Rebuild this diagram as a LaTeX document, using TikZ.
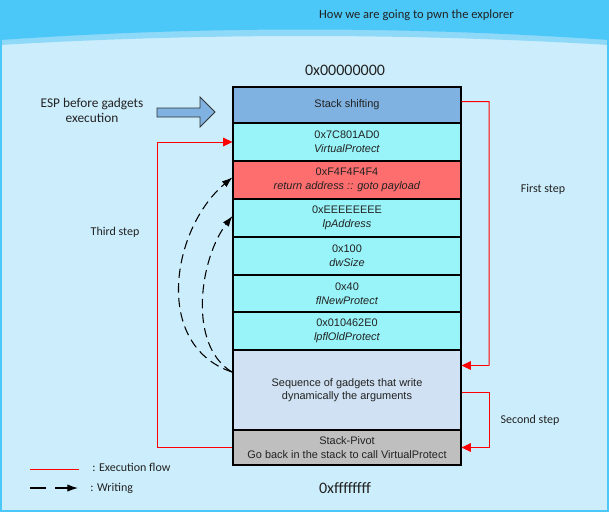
\documentclass[tikz,border=0pt]{standalone}
\usepackage{fontspec}
\setmainfont{Carlito}
\newfontfamily\boxfont{Liberation Sans}
\usetikzlibrary{arrows.meta}
\definecolor{bgc}{RGB}{204,238,252}
\definecolor{headc}{RGB}{75,200,248}
\definecolor{bandc}{RGB}{142,216,248}
\definecolor{shiftc}{RGB}{127,178,224}
\definecolor{cyanc}{RGB}{152,244,248}
\definecolor{redc}{RGB}{255,110,110}
\definecolor{seqc}{RGB}{207,225,242}
\definecolor{pivc}{RGB}{191,191,191}
\definecolor{txtc}{RGB}{34,34,34}
\definecolor{flowc}{RGB}{255,0,0}
\tikzset{
  row/.style={draw=black, line width=0.8pt, minimum width=171pt, inner sep=0pt, align=center,
    font=\boxfont\fontsize{8.2}{10.2}\selectfont, text=txtc},
  flow/.style={draw=flowc, line width=0.75pt, -{Triangle[length=7pt,width=6.5pt]}},
  flowline/.style={draw=flowc, line width=0.75pt},
  writing/.style={draw=black, line width=0.8pt, dash pattern=on 7pt off 4pt, -{Latex[length=8pt,width=5.5pt]}},
  lbl/.style={font=\fontsize{9}{11}\selectfont, text=txtc, inner sep=0pt},
}
\begin{document}
\begin{tikzpicture}[x=0.75pt,y=-0.75pt]
\useasboundingbox (0,0) rectangle (609,512);
% background
\fill[bgc] (0,0) rectangle (609,512);
\fill[bandc] (0,0) -- (609,0) -- (609,45) .. controls (409,33) and (200,33) .. (0,45) -- cycle;
\fill[headc] (0,0) -- (609,0) -- (609,40) .. controls (409,26) and (200,26) .. (0,40) -- cycle;
\draw[headc, line width=1.5pt] (1,0) -- (1,511) -- (608,511) -- (608,0);
\node[font=\fontsize{9.4}{12}\selectfont, text=txtc, anchor=east, inner sep=0pt] (title) at (514,15) {How we are going to pwn the explorer};

% stack
\node[row, fill=shiftc, minimum height=27pt] (r0) at (347,105) {Stack shifting};
\node[row, fill=cyanc, minimum height=28.5pt] (r1) at (347,142) {0x7C801AD0\\\textit{VirtualProtect}};
\node[row, fill=redc, minimum height=28.5pt] (r2) at (347,180) {0xF4F4F4F4\\\textit{return address :: goto payload}};
\node[row, fill=cyanc, minimum height=28.5pt] (r3) at (347,218) {0xEEEEEEEE\\\textit{lpAddress}};
\node[row, fill=cyanc, minimum height=28.5pt] (r4) at (347,256) {0x100\\\textit{dwSize}};
\node[row, fill=cyanc, minimum height=27.75pt] (r5) at (347,293.5) {0x40\\\textit{flNewProtect}};
\node[row, fill=cyanc, minimum height=28.5pt] (r6) at (347,331) {0x010462E0\\\textit{lpflOldProtect}};
\node[row, fill=seqc, minimum height=60pt] (r7) at (347,390) {Sequence of gadgets that write\\dynamically the arguments};
\node[row, fill=pivc, minimum height=26.25pt] (r8) at (347,447.5) {Stack-Pivot\\Go back in the stack to call VirtualProtect};

\node[font=\fontsize{12}{14}\selectfont, text=txtc, inner sep=0pt] (top) at (345,70) {0x00000000};
\node[font=\fontsize{12}{14}\selectfont, text=txtc, inner sep=0pt] (bot) at (345,488) {0xffffffff};

% ESP arrow
\node[font=\fontsize{10}{11.3}\selectfont, text=txtc, align=center, inner sep=0pt] (esp) at (92,110.5) {ESP before gadgets\\execution};
\draw[fill=shiftc, draw=black!80, line width=0.6pt] (157,108) -- (200,108) -- (200,97) -- (215,112) -- (200,127) -- (200,117) -- (157,117) -- cycle;

% execution flow
\coordinate (tl) at (157,142);
\draw[flowline] (r8.west) -| (tl);
\draw[flow] (tl) -- (r1.west);
\coordinate (fa) at (489,101.5);
\coordinate (fb) at (489,365.5);
\draw[flowline] ([yshift=2.6pt]r0.east) -- (fa) -- (fb);
\draw[flow] (fb) -- (r7.east |- fb);
\coordinate (sa) at (489,392);
\draw[flowline] (r7.east |- sa) -- (sa) |- ([xshift=10pt]r8.east);
\draw[flow] ([xshift=10pt]r8.east) -- (r8.east);
\node[lbl] (first) at (543,189) {First step};
\node[lbl] (second) at (530,420) {Second step};
\node[lbl] (third) at (115,232) {Third step};

% writing
\coordinate (ws) at (232,372);
\draw[writing] (ws) .. controls (152,345) and (172,228) .. ([yshift=2pt]r2.west);
\draw[writing] (ws) .. controls (187,345) and (200,258) .. ([yshift=1.5pt]r3.west);

% legend
\coordinate (l1a) at (30,469);
\coordinate (l1b) at (79,469);
\draw[flowline] (l1a) -- (l1b);
\node[lbl, anchor=west] (lg1) at (92,467) {: Execution flow};
\coordinate (l2a) at (30,488);
\coordinate (l2b) at (46,488);
\coordinate (l2c) at (55,488);
\coordinate (l2d) at (78,488);
\draw[black, line width=0.8pt] (l2a) -- (l2b);
\draw[black, line width=0.8pt, -{Latex[length=8pt,width=5.5pt]}] (l2c) -- (l2d);
\node[lbl, anchor=west] (lg2) at (90,488) {: Writing};
\end{tikzpicture}
\end{document}
